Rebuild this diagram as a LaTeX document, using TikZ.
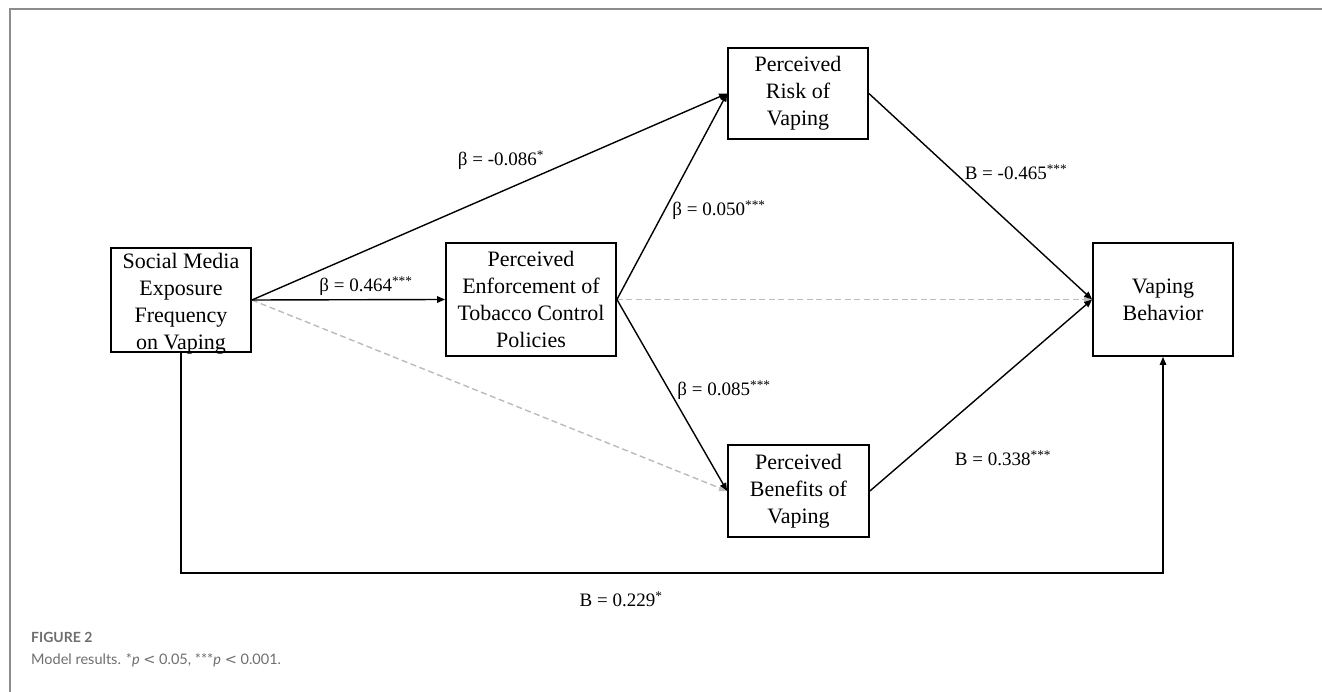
\documentclass[tikz,border=0pt]{standalone}
\usepackage{fontspec}
\setmainfont{Liberation Serif}
\newfontfamily\capfont{Lato}
\usetikzlibrary{arrows.meta,calc}
\definecolor{framegray}{HTML}{8C8C8C}
\definecolor{dashgray}{HTML}{BBBBBB}
\definecolor{capgray}{HTML}{6E6E6E}
\begin{document}
\begin{tikzpicture}[x=1pt,y=-1pt,
  boxnode/.style={draw=black,line width=1.8pt,align=center,inner sep=0pt,
    font=\fontsize{22}{27}\selectfont},
  boxtext/.style={align=center,inner sep=0pt,font=\fontsize{22}{27}\selectfont},
  arr/.style={line width=1.4pt,-{Triangle[length=8pt,width=6.5pt]}},
  dasharr/.style={line width=1.4pt,draw=dashgray,dash pattern=on 6pt off 3.5pt,
    -{Triangle[length=8pt,width=6.5pt,fill=dashgray]}},
  lab/.style={font=\fontsize{19}{22}\selectfont,inner sep=0pt},
  capline/.style={inner sep=0pt,anchor=west,text=capgray}]
\useasboundingbox (0,0) rectangle (1322,692);
\draw[framegray,line width=2pt] (9.5,692) -- (9.5,9.5) -- (1322,9.5);

\node[boxnode,minimum width=140pt,minimum height=104pt] (sm) at (181,300) {};
\node[boxtext] (smtext) at (181,303.5)
  {Social Media\\Exposure\\Frequency\\on Vaping};
\node[boxnode,minimum width=170pt,minimum height=113pt] (enf) at (531,299.5)
  {Perceived\\Enforcement of\\Tobacco Control\\Policies};
\node[boxnode,minimum width=140pt,minimum height=91pt] (risk) at (798,93.5)
  {Perceived\\Risk of\\Vaping};
\node[boxnode,minimum width=141pt,minimum height=92pt] (ben) at (798.5,491)
  {Perceived\\Benefits of\\Vaping};
\node[boxnode,minimum width=140pt,minimum height=113pt] (vap) at (1163,299.5)
  {Vaping\\Behavior};
\coordinate (bottomrail) at (181,573);

\draw[dasharr] (sm.east) -- (ben.west);
\draw[dasharr] (enf.east) -- (vap.west);
\draw[arr] (sm.east) -- (risk.west);
\draw[arr] (sm.east) -- (enf.west);
\draw[arr] (enf.east) -- (risk.west);
\draw[arr] (enf.east) -- (ben.west);
\draw[arr] (risk.east) -- (vap.west);
\draw[arr] (ben.east) -- (vap.west);
\draw[arr] (sm.south) -- (sm.south |- bottomrail) -| (vap.south);

\node[lab] (l1) at (501,160) {β = -0.086\textsuperscript{*}};
\node[lab] (l2) at (366,286) {β = 0.464\textsuperscript{***}};
\node[lab] (l3) at (719,210) {β = 0.050\textsuperscript{***}};
\node[lab] (l4) at (724,390) {β = 0.085\textsuperscript{***}};
\node[lab] (l5) at (1016,172) {B = -0.465\textsuperscript{***}};
\node[lab] (l6) at (1003,458) {B = 0.338\textsuperscript{***}};
\node[lab] (l7) at (621,599) {B = 0.229\textsuperscript{*}};

\node[capline,font=\capfont\bfseries\fontsize{14}{16}\selectfont] (fig) at (31,637) {FIGURE 2};
\node[capline,font=\capfont\fontsize{14.5}{18}\selectfont] (cap) at (31,660)
  {Model results. *\textit{p} {\fontspec{DejaVu Sans}<} 0.05, ***\textit{p} {\fontspec{DejaVu Sans}<} 0.001.};
\end{tikzpicture}
\end{document}
